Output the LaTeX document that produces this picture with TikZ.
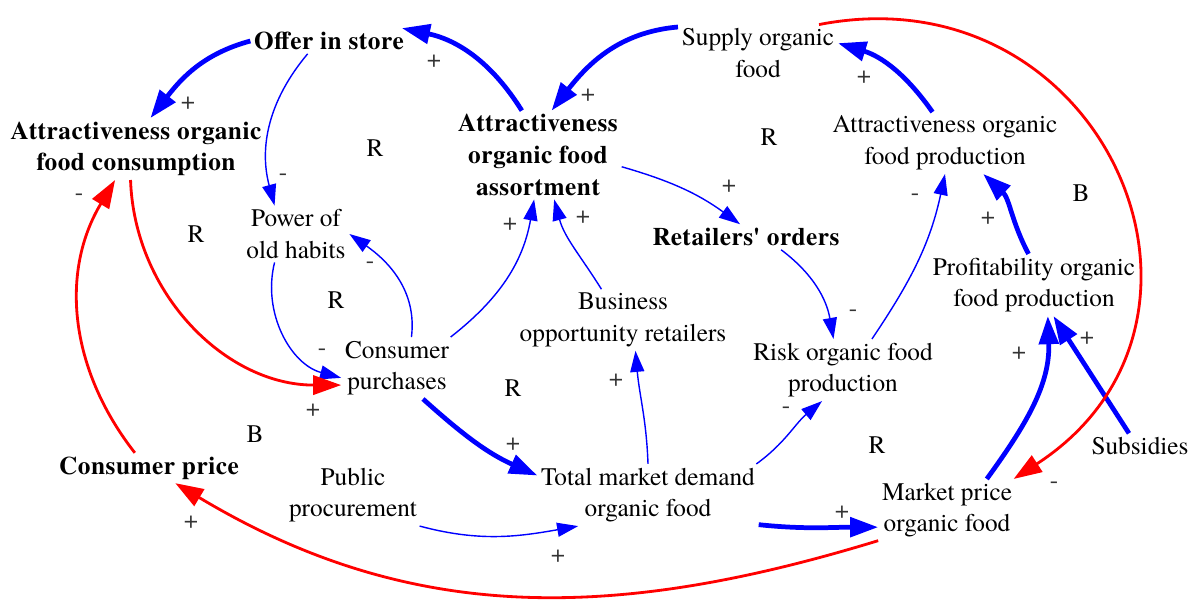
\documentclass[tikz,border=0pt]{standalone}
\usepackage{fontspec}
\setmainfont{texgyretermes}[Extension=.otf,UprightFont=*-regular,BoldFont=*-bold,ItalicFont=*-italic,BoldItalicFont=*-bolditalic]
\usetikzlibrary{arrows.meta}

\begin{document}
\begin{tikzpicture}[x=0.02cm,y=0.02cm,
    every node/.style={font=\fontsize{14.4}{18}\selectfont,align=center,inner sep=2pt},
    keyvar/.style={font=\fontsize{14.4}{18}\selectfont\bfseries\addfontfeature{LetterSpace=2}},
    sign/.style={text=black!80},
    linkthin/.style={blue,line width=0.8pt,-{Triangle[length=12pt,width=8pt]}},
    linkthick/.style={blue,line width=2.7pt,-{Triangle[length=16pt,width=11pt]}},
    linkred/.style={red,line width=1.6pt,-{Triangle[length=16pt,width=11pt]}}]
    \useasboundingbox (0,0) rectangle (1195,-599);
    % variables
    \node[keyvar] (offer) at (329,-41) {Offer in store};
    \node[keyvar] (cons) at (136,-149) {Attractiveness organic\\food consumption};
    \node[keyvar] (assort) at (538,-155) {Attractiveness\\organic food\\assortment};
    \node (supply) at (758,-53) {Supply organic\\food};
    \node (prod) at (945,-143) {Attractiveness organic\\food production};
    \node[keyvar] (orders) at (746,-237) {Retailers\textquotesingle\ orders};
    \node (habits) at (296,-234) {Power of\\old habits};
    \node (profit) at (1034,-285) {Profitability organic\\food production};
    \node (business) at (623,-320) {Business\\opportunity retailers};
    \node (risk) at (843,-370) {Risk organic food\\production};
    \node (purch) at (397,-368) {Consumer\\purchases};
    \node (demand) at (648,-495) {Total market demand\\organic food};
    \node (public) at (353,-495) {Public\\procurement};
    \node[keyvar] (cprice) at (149,-468) {Consumer price};
    \node (market) at (947,-510) {Market price\\organic food};
    \node (subs) at (1140,-446) {Subsidies};
    % thick links
    \draw[linkthick] (offer.west) to[out=195,in=52] (cons.65);
    \draw[linkthick] (assort.110) to[out=122,in=-12] (offer.10);
    \draw[linkthick] (supply.162) to[out=185,in=52] (assort.73);
    \draw[linkthick] (prod.112) to[out=125,in=-17] (supply.7);
    \draw[linkthick] (profit.100) to[out=118,in=-43] (prod.-39);
    \draw[linkthick] (market.38) to[out=54,in=-88] (profit.-66);
    \draw[linkthick] (subs.131) -- (profit.-58);
    \draw[linkthick] (purch.-50) to[out=-42,in=156] (demand.170);
    \draw[linkthick] (demand.-15) to[out=-6,in=180] (market.194);
    % thin links
    \draw[linkthin] (offer.211) to[out=230,in=105] (habits.127);
    \draw[linkthin] (assort.-8) to[out=-16,in=144] (orders.115);
    \draw[linkthin] (orders.-20) to[out=-37,in=100] (risk.107);
    \draw[linkthin] (risk.47) to[out=56,in=-102] (prod.south);
    \draw[linkthin] (habits.233) to[out=-104,in=165] (purch.190);
    \draw[linkthin] (purch.65) to[out=83,in=-35] (habits.east);
    \draw[linkthin] (purch.30) to[out=38,in=-100] (assort.-95);
    \draw[linkthin] (business.125) to[out=122,in=-75] (assort.-70);
    \draw[linkthin] (public.-25) to[out=-15,in=190] (demand.204);
    \draw[linkthin] (demand.north) to[out=92,in=-85] (business.-68);
    \draw[linkthin] (demand.16) to[out=36,in=-140] (risk.236);
    % price links
    \draw[linkred] (supply.25) to[out=11,in=33,looseness=1.5] (market.25);
    \draw[linkred] (market.204) to[out=197,in=-31] (cprice.-30);
    \draw[linkred] (cprice.133) to[out=128,in=-121] (cons.236);
    \draw[linkred] (cons.-100) to[out=-88,in=180] (purch.197);
    % polarities
    \node[sign] (p1) at (188,-103) {+};
    \node[sign] (p2) at (283,-177) {-};
    \node[sign] (p3) at (434,-61) {+};
    \node[sign] (p4) at (588,-95) {+};
    \node[sign] (p5) at (864,-77) {+};
    \node[sign] (p6) at (729,-186) {+};
    \node[sign] (p7) at (853,-313) {-};
    \node[sign] (p8) at (915,-197) {-};
    \node[sign] (p9) at (988,-218) {+};
    \node[sign] (p10) at (1019,-353) {+};
    \node[sign] (p11) at (1087,-338) {+};
    \node[sign] (p12) at (1054,-485) {-};
    \node[sign] (p13) at (191,-522) {+};
    \node[sign] (p14) at (79,-197) {-};
    \node[sign] (p15) at (313,-410) {+};
    \node[sign] (p16) at (322,-352) {-};
    \node[sign] (p17) at (370,-265) {-};
    \node[sign] (p18) at (510,-224) {+};
    \node[sign] (p19) at (583,-217) {+};
    \node[sign] (p20) at (513,-444) {+};
    \node[sign] (p21) at (558,-556) {+};
    \node[sign] (p22) at (616,-380) {+};
    \node[sign] (p23) at (786,-410) {-};
    \node[sign] (p24) at (842,-512) {+};
    % loops
    \node (r1) at (375,-148) {R};
    \node (r2) at (196,-234) {R};
    \node (r3) at (336,-300) {R};
    \node (r4) at (513,-388) {R};
    \node (r5) at (769,-137) {R};
    \node (b1) at (1081,-193) {B};
    \node (b2) at (255,-434) {B};
    \node (r6) at (877,-445) {R};
\end{tikzpicture}
\end{document}
